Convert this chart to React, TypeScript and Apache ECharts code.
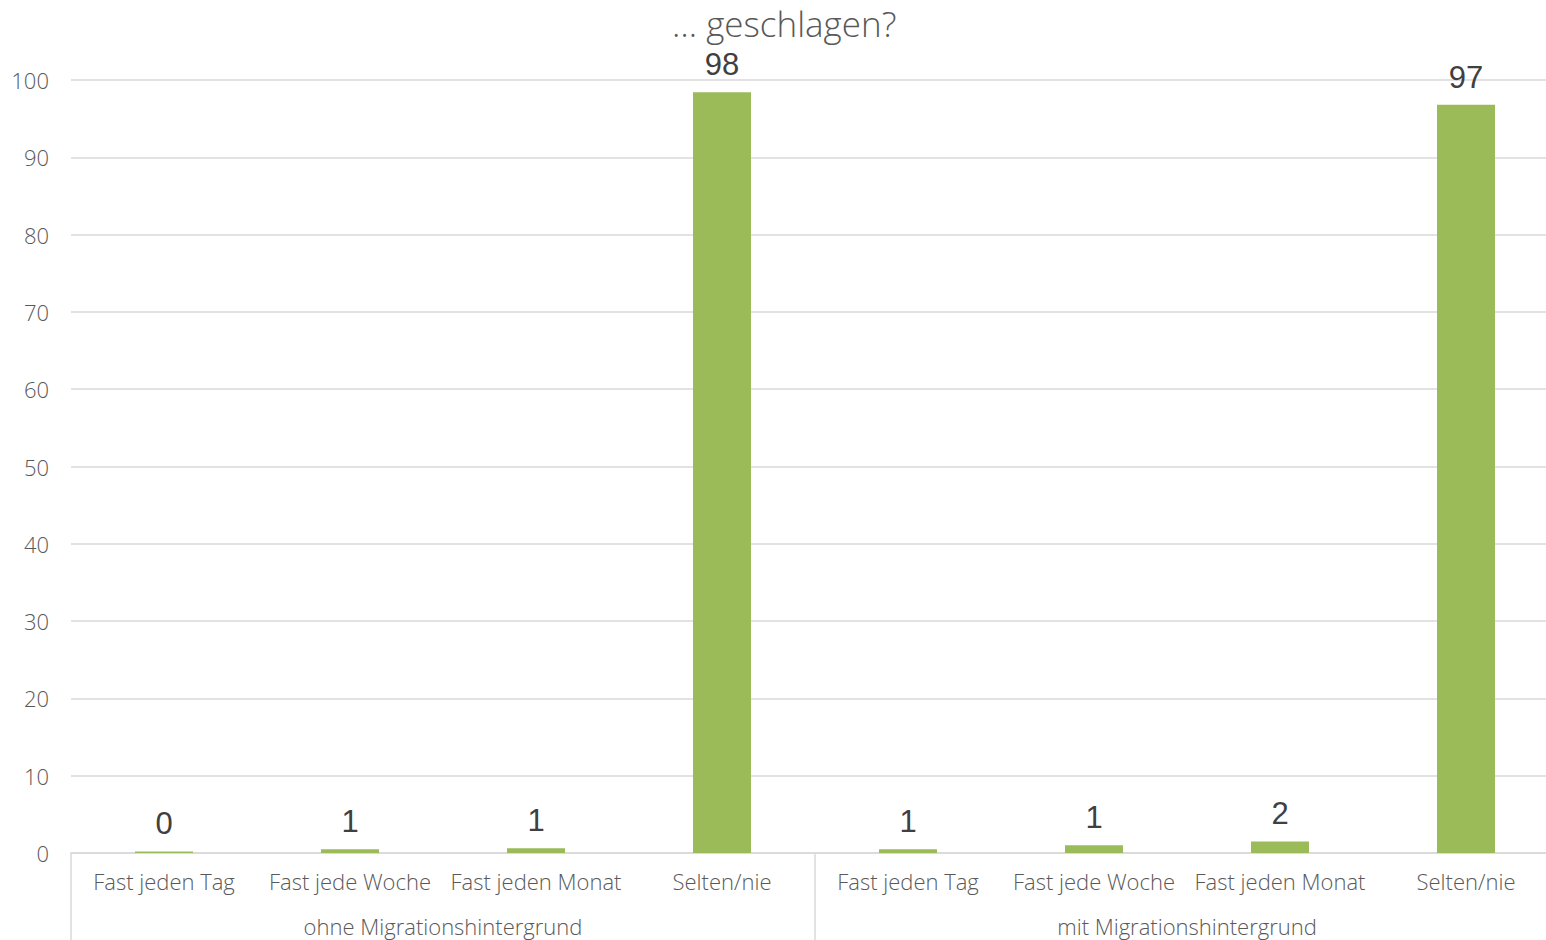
import React, { useEffect, useRef } from "react";
import * as echarts from "echarts";

const titleText = "… geschlagen?";
const categories = [
  "Fast jeden Tag",
  "Fast jede Woche",
  "Fast jeden Monat",
  "Selten/nie",
  "Fast jeden Tag",
  "Fast jede Woche",
  "Fast jeden Monat",
  "Selten/nie",
];
const groups = ["ohne Migrationshintergrund", "mit Migrationshintergrund"];
const values = [0.2, 0.5, 0.6, 98.4, 0.5, 1.0, 1.5, 96.8];

export default function App() {
  const ref = useRef<HTMLDivElement>(null);
  useEffect(() => {
    if (!ref.current) return;
    const chart = echarts.init(ref.current, null, { renderer: "svg" });
    const font = "'Open Sans', 'Noto Sans', sans-serif";
    chart.setOption({
      animation: false,
      title: {
        text: titleText,
        left: 672,
        top: 4,
        padding: 0,
        textStyle: {
          fontFamily: font,
          fontWeight: 300,
          fontSize: 35,
          lineHeight: 38,
          color: "#595959",
        },
      },
      grid: { left: 71, right: 1, top: 80, bottom: 87, containLabel: false },
      xAxis: [
        {
          type: "category",
          data: categories,
          axisLine: { show: true, lineStyle: { color: "#d9d9d9", width: 1.5 } },
          axisTick: { show: false },
          axisLabel: {
            interval: 0,
            margin: 17,
            fontFamily: font,
            fontWeight: 300,
            fontSize: 22,
            color: "#595959",
          },
        },
        {
          type: "category",
          data: groups,
          position: "bottom",
          axisLine: { show: false },
          axisTick: {
            show: true,
            length: 88,
            lineStyle: { color: "#d9d9d9", width: 1.5 },
          },
          axisLabel: {
            interval: 0,
            margin: 62,
            fontFamily: font,
            fontWeight: 300,
            fontSize: 22,
            color: "#595959",
          },
          splitLine: { show: false },
        },
      ],
      yAxis: {
        type: "value",
        min: 0,
        max: 100,
        interval: 10,
        axisLine: { show: false },
        axisTick: { show: false },
        axisLabel: {
          margin: 22,
          fontFamily: font,
          fontWeight: 300,
          fontSize: 22,
          color: "#595959",
        },
        splitLine: { lineStyle: { color: "#d9d9d9", width: 1.5 } },
      },
      series: [
        {
          type: "bar",
          data: values,
          xAxisIndex: 0,
          barWidth: 58,
          itemStyle: { color: "#9bbb59" },
          label: {
            show: true,
            position: "top",
            distance: 12,
            formatter: (p: any) => String(Math.round(p.value)),
            fontFamily: "'Liberation Sans', Arial, sans-serif",
            fontSize: 31,
            lineHeight: 31,
            color: "#404040",
          },
        },
      ],
    });
    return () => chart.dispose();
  }, []);
  return (
    <div
      style={{ position: "fixed", left: 0, top: 0, width: 1546, height: 940, overflow: "hidden", background: "#fff" }}
    >
      <div ref={ref} style={{ width: 1560, height: 940 }} />
    </div>
  );
}
